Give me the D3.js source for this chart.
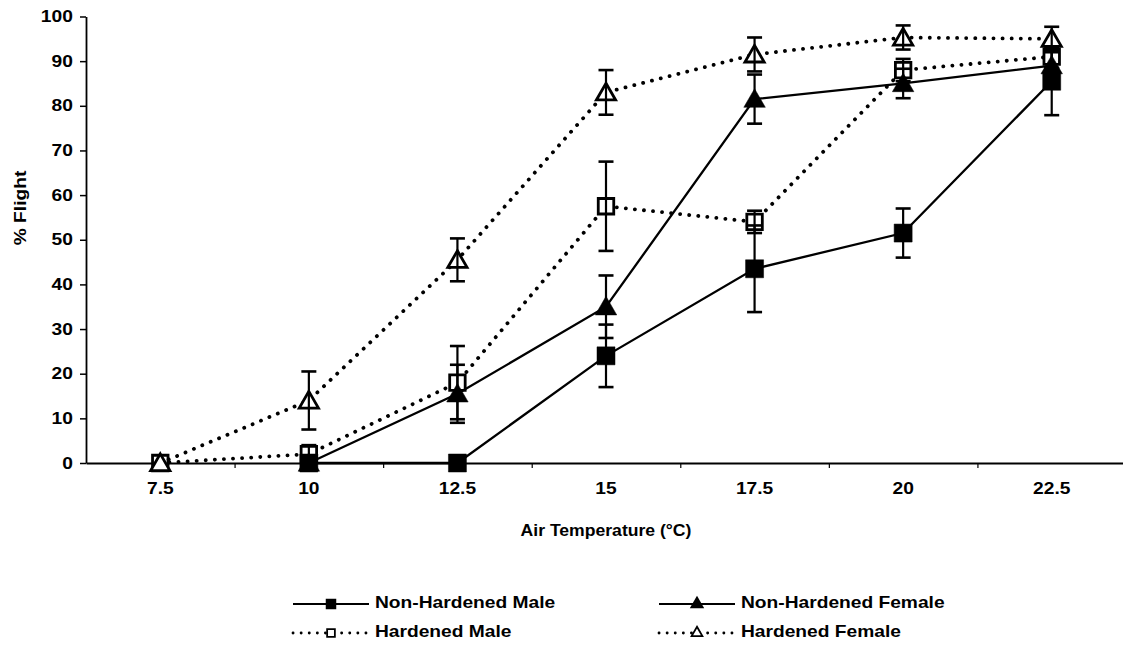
<!DOCTYPE html>
<html>
<head>
<meta charset="utf-8">
<script src="https://cdn.jsdelivr.net/npm/d3@7"></script>
<style>
  html, body { margin: 0; padding: 0; background: #fff; }
  svg { display: block; }
  text { font-family: "Liberation Sans", Arial, sans-serif; fill: #000; }
</style>
</head>
<body>
<svg id="chart" width="1123" height="646"></svg>
<script>
// ---- data ----
const categories = ["7.5", "10", "12.5", "15", "17.5", "20", "22.5"];
const nhMale      = [null, 0, 0, 24, 43.5, 51.5, 85.5];
const nhMaleErr   = [null, 0, 0, 7, 9.7, 5.5, 7.6];
const nhFemale    = [null, 0, 15.5, 35, 81.5, 85, 89];
const nhFemaleErr = [null, 0, 6.5, 7, 5.5, 3.3, 3];
const hMale       = [0, 2, 18, 57.5, 54, 88, 91];
const hMaleErr    = [0, 2, 8.2, 10, 2.5, 2.5, 2.5];
const hFemale     = [0, 14, 45.5, 83, 91.5, 95.3, 95];
const hFemaleErr  = [0, 6.5, 4.8, 5, 3.8, 2.7, 2.7];
const yTicks = [0, 10, 20, 30, 40, 50, 60, 70, 80, 90, 100];
const seriesNames = ["Non-Hardened Male", "Non-Hardened Female", "Hardened Male", "Hardened Female"];

const svg = d3.select("#chart");
const pLeft = 86, pRight = 1126, pTop = 16.5, pBottom = 463;
const FONT = "Liberation Sans, Arial, sans-serif";

const x = d3.scaleBand().domain(categories).range([pLeft, pRight]);
const xb = d3.scaleLinear().domain([0, categories.length]).range([pLeft, pRight]);
const y = d3.scaleLinear().domain([0, 100]).range([pBottom, pTop]);
const cx = c => x(c) + x.bandwidth() / 2;

// ---- axes ----
const yAxis = svg.append("g").attr("transform", `translate(${pLeft},0)`)
  .call(d3.axisLeft(y).tickValues(yTicks).tickSize(6).tickSizeOuter(0).tickPadding(5));
yAxis.select(".domain").attr("stroke", "#000").attr("stroke-width", 1.8);
yAxis.selectAll(".tick line").attr("stroke", "#000").attr("stroke-width", 1.5);
yAxis.selectAll(".tick text").attr("font-size", 16).attr("font-weight", "bold")
  .attr("font-family", FONT).attr("transform", "scale(1.2,1)");

const xTickAxis = svg.append("g").attr("transform", `translate(0,${pBottom})`)
  .call(d3.axisBottom(xb).tickValues(d3.range(1, categories.length)).tickSize(5).tickSizeOuter(0).tickFormat(""));
xTickAxis.select(".domain").attr("stroke", "#000").attr("stroke-width", 1.8);
xTickAxis.selectAll(".tick line").attr("stroke", "#000").attr("stroke-width", 1.2);

const xLabelAxis = svg.append("g").attr("transform", `translate(0,${pBottom})`)
  .call(d3.axisBottom(x).tickSize(0).tickPadding(20));
xLabelAxis.select(".domain").remove();
xLabelAxis.selectAll(".tick text").attr("font-size", 16).attr("font-weight", "bold")
  .attr("font-family", FONT).attr("transform", "scale(1.2,1)");

// axis titles
svg.append("text").attr("transform", `translate(22,208) rotate(-90) scale(1.2,1)`)
  .attr("text-anchor", "middle").attr("dominant-baseline", "middle")
  .attr("font-size", 16).attr("font-weight", "bold").text("% Flight");
svg.append("text").attr("transform", `translate(${(pLeft + pRight) / 2},532) scale(1.1,1)`)
  .attr("text-anchor", "middle").attr("dominant-baseline", "middle")
  .attr("font-size", 16).attr("font-weight", "bold").text("Air Temperature (°C)");

// ---- series ----
const series = [
  { name: seriesNames[2], vals: hMale, err: hMaleErr, dotted: true, shape: "square", filled: false },
  { name: seriesNames[3], vals: hFemale, err: hFemaleErr, dotted: true, shape: "triangle", filled: false },
  { name: seriesNames[1], vals: nhFemale, err: nhFemaleErr, dotted: false, shape: "triangle", filled: true },
  { name: seriesNames[0], vals: nhMale, err: nhMaleErr, dotted: false, shape: "square", filled: true }
];

const line = d3.line().defined(d => d.v !== null).x(d => cx(d.c)).y(d => y(d.v));

function markerPath(shape, filled) {
  if (shape === "square") return d3.symbol(d3.symbolSquare, filled ? 324 : 240)();
  return d3.symbol(d3.symbolTriangle, filled ? 200 : 160)();
}

function applyLineStyle(sel, dotted) {
  sel.attr("fill", "none").attr("stroke", "#000");
  if (dotted) sel.attr("stroke-width", 3.8).attr("stroke-dasharray", "0.1 9").attr("stroke-linecap", "round");
  else sel.attr("stroke-width", 2.3);
}

function applyMarkerStyle(sel, filled) {
  if (filled) sel.attr("fill", "#000").attr("stroke", "#000").attr("stroke-width", 0.5);
  else sel.attr("fill", "#fff").attr("stroke", "#000").attr("stroke-width", 2.8);
}

series.forEach(s => {
  const pts = categories.map((c, i) => ({ c, v: s.vals[i], e: s.err[i] }));
  const g = svg.append("g");
  applyLineStyle(g.append("path").attr("d", line(pts)), s.dotted);
  const valid = pts.filter(p => p.v !== null);
  valid.forEach(p => {
    const m = g.append("path").attr("d", markerPath(s.shape, s.filled))
      .attr("transform", `translate(${cx(p.c)},${y(p.v) + (s.shape === "triangle" ? 2 : 0)})`);
    applyMarkerStyle(m, s.filled);
  });
  // error bars drawn over markers
  valid.filter(p => p.e > 0).forEach(p => {
    const xx = cx(p.c), y1 = y(p.v + p.e), y2 = y(p.v - p.e);
    g.append("line").attr("x1", xx).attr("x2", xx).attr("y1", y1).attr("y2", y2)
      .attr("stroke", "#000").attr("stroke-width", 2.2);
    [y1, y2].forEach(yy => g.append("line").attr("x1", xx - 7.5).attr("x2", xx + 7.5)
      .attr("y1", yy).attr("y2", yy).attr("stroke", "#000").attr("stroke-width", 2.6));
  });
});

// ---- legend ----
const legendItems = [
  { name: seriesNames[0], dotted: false, shape: "square", filled: true, lx: 293, ly: 604 },
  { name: seriesNames[1], dotted: false, shape: "triangle", filled: true, lx: 659, ly: 604 },
  { name: seriesNames[2], dotted: true, shape: "square", filled: false, lx: 293, ly: 633 },
  { name: seriesNames[3], dotted: true, shape: "triangle", filled: false, lx: 659, ly: 633 }
];
legendItems.forEach(it => {
  const g = svg.append("g").attr("transform", `translate(${it.lx},${it.ly})`);
  const ln = g.append("line").attr("x1", 0).attr("x2", 76).attr("y1", 0).attr("y2", 0);
  applyLineStyle(ln, it.dotted);
  if (it.dotted) ln.attr("stroke-width", 2.8).attr("stroke-dasharray", "0.1 8");
  else ln.attr("stroke-width", 2);
  const m = g.append("path").attr("d", it.filled
      ? d3.symbol(it.shape === "square" ? d3.symbolSquare : d3.symbolTriangle, it.shape === "square" ? 110 : 90)()
      : d3.symbol(it.shape === "square" ? d3.symbolSquare : d3.symbolTriangle, it.shape === "square" ? 60 : 50)())
    .attr("transform", `translate(38,0)`);
  if (it.filled) m.attr("fill", "#000");
  else m.attr("fill", "#fff").attr("stroke", "#000").attr("stroke-width", 1.8);
  g.append("text").attr("transform", "translate(82,0) scale(1.2,1)").attr("dominant-baseline", "middle")
    .attr("font-size", 16).attr("font-weight", "bold").text(it.name);
});
</script>
</body>
</html>
